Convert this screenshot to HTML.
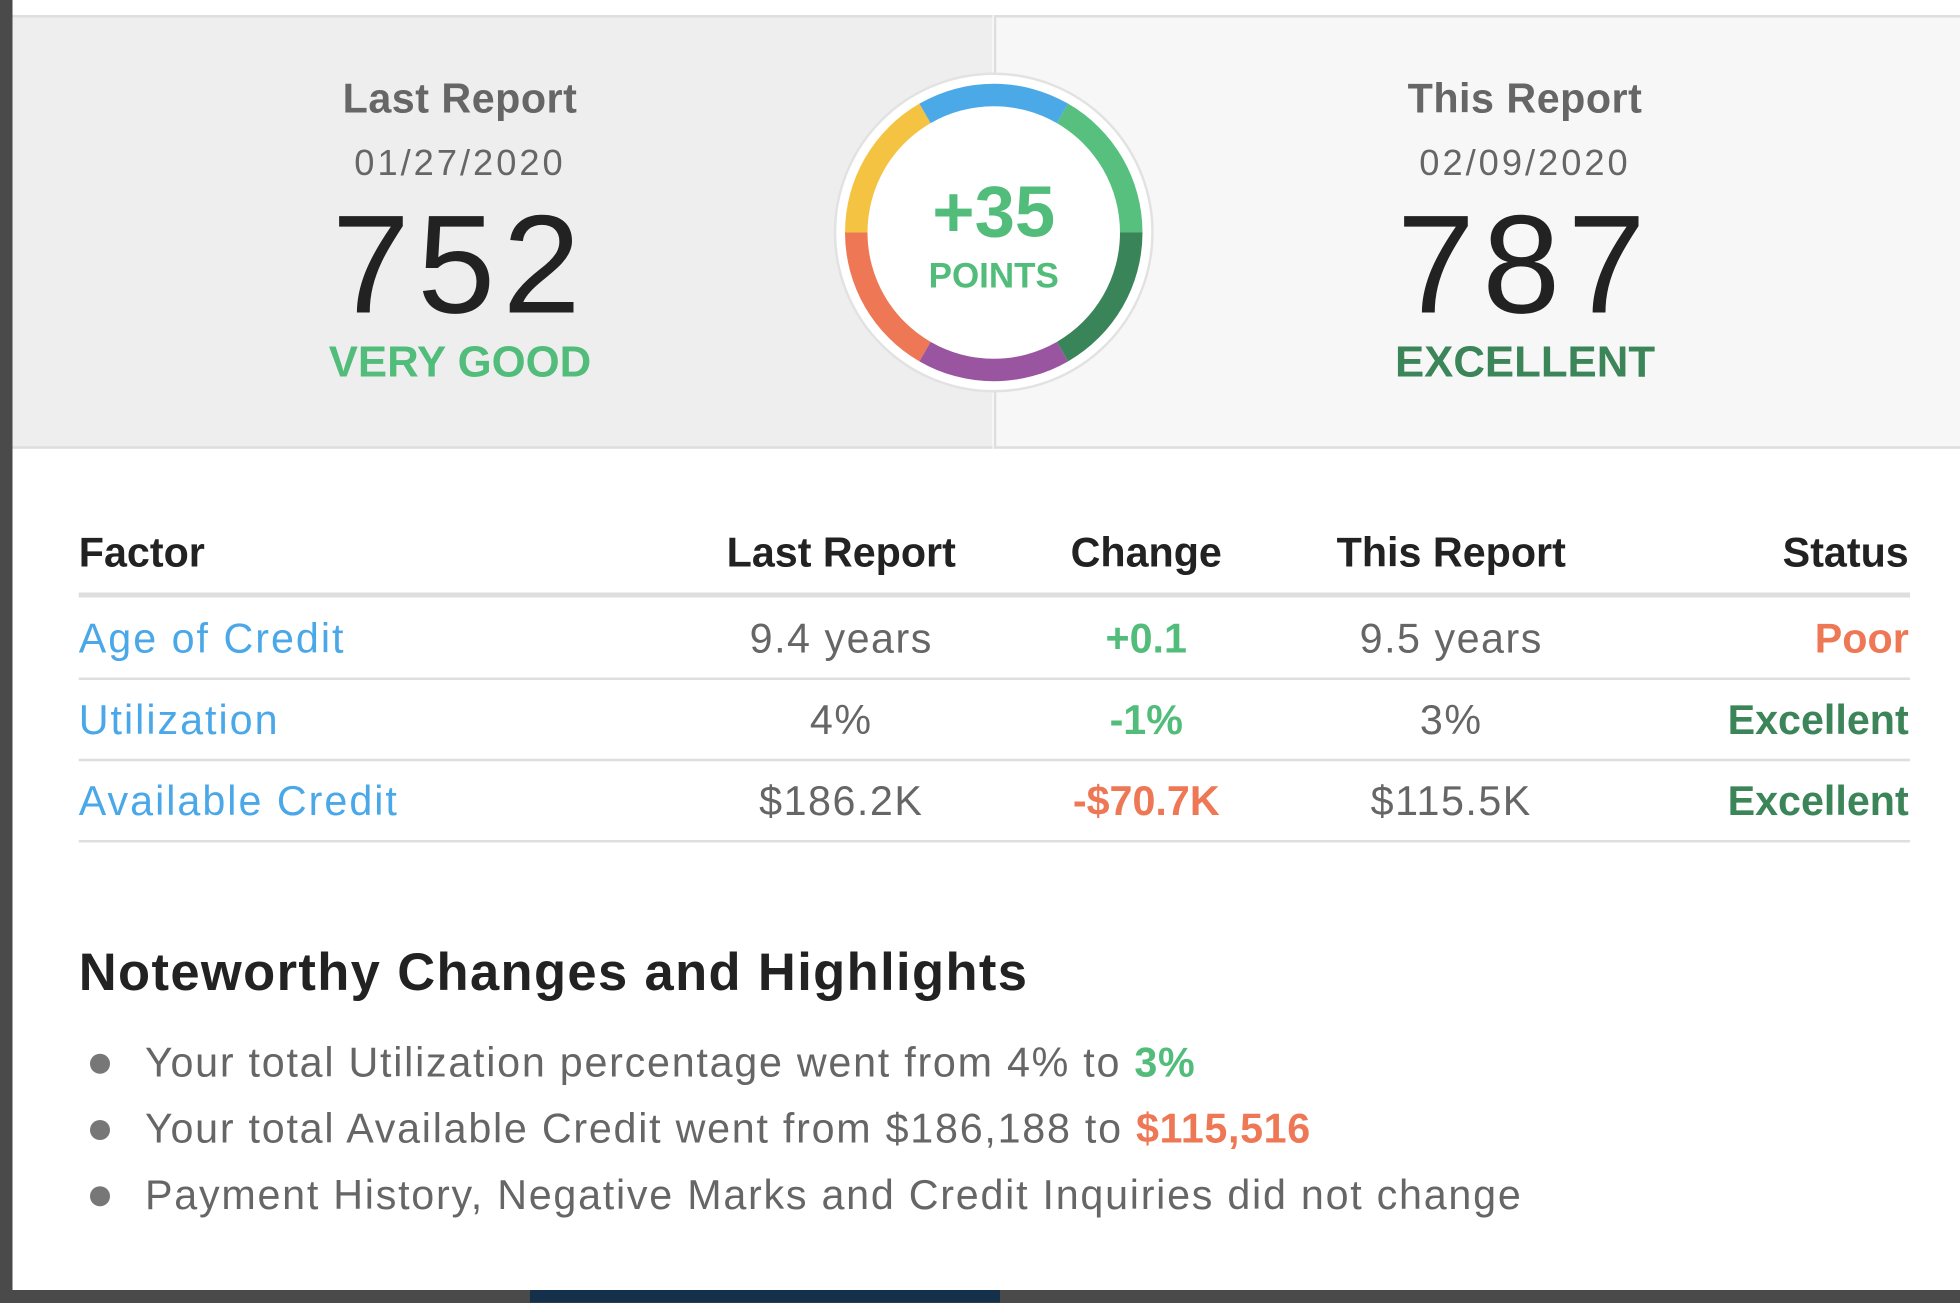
<!DOCTYPE html>
<html><head><meta charset="utf-8">
<style>
html,body{margin:0;padding:0;width:1960px;height:1302px;overflow:hidden;background:#4a4a4a;}
#stage{position:absolute;left:0;top:0;width:1568px;height:1042px;transform:scale(1.25);transform-origin:0 0;font-family:"Liberation Sans",sans-serif;}
.abs{position:absolute;white-space:nowrap;}
.c{transform:translateX(-50%);text-align:center;}
.r{transform:translateX(-100%);}
</style></head><body>
<div id="stage">
  <div class="abs" style="left:10px;top:0;width:1558px;height:1032px;background:#fff;"></div>
  <div class="abs" style="left:424px;top:1032px;width:376px;height:10px;background:#14304a;"></div>
  <div class="abs" style="left:10px;top:12px;width:784px;height:343px;background:#eeeeee;border-top:2px solid #dedede;border-bottom:2px solid #dedede;"></div>
  <div class="abs" style="left:795px;top:12px;width:773px;height:343px;background:#f7f7f7;border-top:2px solid #dedede;border-bottom:2px solid #dedede;border-left:2px solid #dedede;"></div>

  <div class="abs c" style="left:368px;top:60px;font-size:33px;font-weight:bold;color:#666;letter-spacing:0.4px;">Last Report</div>
  <div class="abs c" style="left:368px;top:115px;font-size:29px;color:#666;letter-spacing:2.4px;">01/27/2020</div>
  <div class="abs c" style="left:368px;top:150px;font-size:112px;color:#222;line-height:1.1;letter-spacing:6px;">752</div>
  <div class="abs c" style="left:368px;top:270px;font-size:35px;font-weight:bold;color:#52bd7a;">VERY GOOD</div>

  <div class="abs c" style="left:1220px;top:60px;font-size:33px;font-weight:bold;color:#666;letter-spacing:0.4px;">This Report</div>
  <div class="abs c" style="left:1220px;top:115px;font-size:29px;color:#666;letter-spacing:2.4px;">02/09/2020</div>
  <div class="abs c" style="left:1220px;top:150px;font-size:112px;color:#222;line-height:1.1;letter-spacing:6px;">787</div>
  <div class="abs c" style="left:1220px;top:270px;font-size:35px;font-weight:bold;color:#3b8558;">EXCELLENT</div>

  <svg id="gauge" class="abs" style="left:665px;top:56px;" width="260" height="260" viewBox="0 0 260 260">
    <circle cx="130" cy="130" r="127" fill="#fff" stroke="#e2e2e2" stroke-width="2"/>
    <text x="130" y="133" text-anchor="middle" font-family="Liberation Sans,sans-serif" font-weight="bold" font-size="58" fill="#52bd7a">+35</text>
    <text x="130" y="174" text-anchor="middle" font-family="Liberation Sans,sans-serif" font-weight="bold" font-size="28" fill="#52bd7a">POINTS</text>
  </svg>

  <div class="abs" style="left:63px;top:423px;font-size:33px;font-weight:bold;color:#222;">Factor</div>
  <div class="abs c" style="left:673px;top:423px;font-size:33px;font-weight:bold;color:#222;">Last Report</div>
  <div class="abs c" style="left:917px;top:423px;font-size:33px;font-weight:bold;color:#222;">Change</div>
  <div class="abs c" style="left:1161px;top:423px;font-size:33px;font-weight:bold;color:#222;">This Report</div>
  <div class="abs r" style="left:1527px;top:423px;font-size:33px;font-weight:bold;color:#222;">Status</div>
  <div class="abs" style="left:63px;top:474px;width:1465px;height:4px;background:#dedede;"></div>

  <div id="rows"></div>

  <div class="abs" style="left:63px;top:754px;font-size:42px;font-weight:bold;color:#222;letter-spacing:1.1px;">Noteworthy Changes and Highlights</div>
  <div id="bullets"></div>
</div>
<script>
// gauge segments
const segColors=["#4aa9e6","#58c07f","#3a8459","#9a55a0","#ee7856","#f5c342"];
const segSpans=[60,60,60,60,60,60];
const g=document.getElementById('gauge');
const NS="http://www.w3.org/2000/svg";
let a=-30;
function pt(r,deg){const t=(deg-90)*Math.PI/180;return [130+r*Math.cos(t),130+r*Math.sin(t)];}
segSpans.forEach((s,i)=>{
  const a0=a,a1=a+s;a=a1;
  const R=119,r=101;
  const p1=pt(R,a0),p2=pt(R,a1),p3=pt(r,a1),p4=pt(r,a0);
  const large=s>180?1:0;
  const p=document.createElementNS(NS,'path');
  p.setAttribute('d',`M${p1[0]},${p1[1]} A${R},${R} 0 ${large} 1 ${p2[0]},${p2[1]} L${p3[0]},${p3[1]} A${r},${r} 0 ${large} 0 ${p4[0]},${p4[1]} Z`);
  p.setAttribute('fill',segColors[i]);
  
  
  g.insertBefore(p,g.children[1]);
});

// table
const factors=["Age of Credit","Utilization","Available Credit"];
const lastVals=["9.4 years","4%","$186.2K"];
const changes=["+0.1","-1%","-$70.7K"];
const changeColors=["#52bd7a","#52bd7a","#ee7856"];
const thisVals=["9.5 years","3%","$115.5K"];
const statuses=["Poor","Excellent","Excellent"];
const statusColors=["#ee7856","#3b8558","#3b8558"];
const rows=document.getElementById('rows');
function mk(txt,style,cls){const d=document.createElement('div');d.className='abs '+(cls||'');d.style.cssText=style;d.textContent=txt;rows.appendChild(d);return d;}
factors.forEach((f,i)=>{
  const top=492+i*65;
  let e=mk(f,`left:63px;top:${top}px;font-size:33px;color:#4aa8e8;letter-spacing:1.6px;`);
  
  
  e=mk(lastVals[i],`left:673px;top:${top}px;font-size:33px;color:#666;letter-spacing:1.2px;`,'c');
  
  
  e=mk(changes[i],`left:917px;top:${top}px;font-size:33px;font-weight:bold;color:${changeColors[i]};`,'c');
  
  
  e=mk(thisVals[i],`left:1161px;top:${top}px;font-size:33px;color:#666;letter-spacing:1.2px;`,'c');
  
  
  e=mk(statuses[i],`left:1527px;top:${top}px;font-size:33px;font-weight:bold;color:${statusColors[i]};`,'r');
  
  
  e=mk('',`left:63px;top:${542+i*65}px;width:1465px;height:2px;background:#dedede;`);
  
  
});

// bullets
const bulletTexts=["Your total Utilization percentage went from 4% to ","Your total Available Credit went from $186,188 to ","Payment History, Negative Marks and Credit Inquiries did not change"];
const bulletHighlights=["3%","$115,516",""];
const highlightColors=["#52bd7a","#ee7856",""];
const bl=document.getElementById('bullets');
bulletTexts.forEach((t,i)=>{
  const top=831+i*53;
  const dot=document.createElement('div');
  dot.className='abs';
  dot.style.cssText=`left:72px;top:${top+12}px;width:16px;height:16px;border-radius:50%;background:#777;`;
  
  
  bl.appendChild(dot);
  const d=document.createElement('div');
  d.className='abs';
  d.style.cssText=`left:116px;top:${top}px;font-size:33px;color:#666;letter-spacing:1.4px;`;
  d.textContent=t;
  if(bulletHighlights[i]){const s=document.createElement('span');s.style.cssText=`font-weight:bold;color:${highlightColors[i]};letter-spacing:0.5px;`;s.textContent=bulletHighlights[i];d.appendChild(s);}
  
  
  bl.appendChild(d);
});
</script>
</body></html>
